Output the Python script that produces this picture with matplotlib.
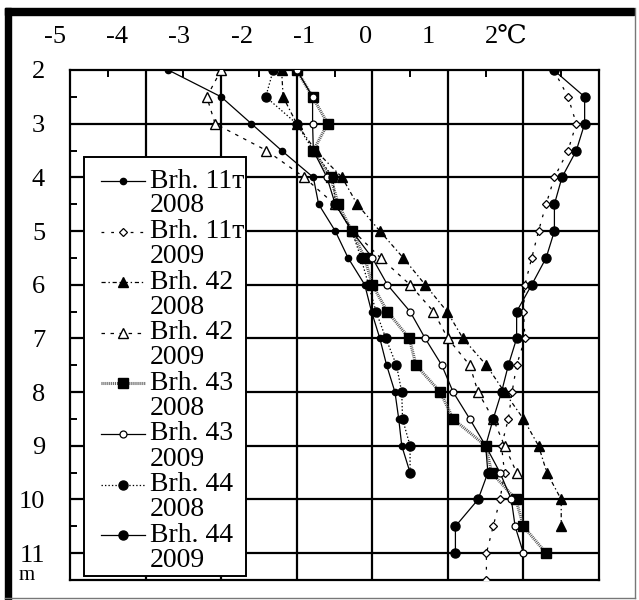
import matplotlib
matplotlib.use("Agg")
import matplotlib.pyplot as plt
from matplotlib.lines import Line2D
from matplotlib.patches import Rectangle
import numpy as np

plt.rcParams['font.family'] = ['Liberation Serif', 'DejaVu Serif', 'DejaVu Sans']
plt.rcParams['lines.scale_dashes'] = False

# ---- data: temperature (°C) by depth (m), 0.5 m step from 2 m ----
depths = [2.0, 2.5, 3.0, 3.5, 4.0, 4.5, 5.0, 5.5, 6.0, 6.5,
          7.0, 7.5, 8.0, 8.5, 9.0, 9.5, 10.0, 10.5, 11.0, 11.5]

brh11_2008 = [-3.70, -3.00, -2.60, -2.20, -1.78, -1.71, -1.49, -1.32, -1.10, -1.01,
              -0.90, -0.81, -0.70, -0.65, -0.61, -0.50]
brh11_2009 = [1.40, 1.59, 1.70, 1.59, 1.41, 1.30, 1.20, 1.11, 1.02, 1.00,
              1.02, 0.91, 0.85, 0.80, 0.71, 0.75, 0.69, 0.60, 0.51, 0.51]
brh42_2008 = [-2.20, -2.18, -2.00, -1.75, -1.40, -1.20, -0.90, -0.59, -0.30, -0.01,
              0.20, 0.51, 0.75, 1.00, 1.20, 1.31, 1.50, 1.50]
brh42_2009 = [-3.00, -3.19, -3.08, -2.40, -1.90, -1.50, -1.25, -0.89, -0.50, -0.19,
              0.00, 0.29, 0.40, 0.60, 0.75, 0.91]
brh43_2008 = [-2.00, -1.79, -1.59, -1.78, -1.55, -1.45, -1.27, -1.10, -1.00, -0.80,
              -0.51, -0.42, -0.10, 0.07, 0.50, 0.58, 0.90, 1.00, 1.30]
brh43_2009 = [-2.00, -1.79, -1.79, -1.78, -1.60, -1.49, -1.27, -1.00, -0.80, -0.50,
              -0.30, -0.08, 0.07, 0.29, 0.50, 0.69, 0.84, 0.89, 1.00]
brh44_2008 = [-2.31, -2.41, -2.00, -1.78, -1.52, -1.49, -1.27, -1.15, -1.05, -0.95,
              -0.82, -0.68, -0.61, -0.60, -0.50, -0.50]
brh44_2009 = [1.40, 1.81, 1.81, 1.70, 1.51, 1.41, 1.41, 1.30, 1.11, 0.91,
              0.91, 0.80, 0.71, 0.60, 0.50, 0.53, 0.40, 0.10, 0.10]

series_names = ["Brh. 11т", "Brh. 11т", "Brh. 42", "Brh. 42",
                "Brh. 43", "Brh. 43", "Brh. 44", "Brh. 44"]
series_years = ["2008", "2009", "2008", "2009", "2008", "2009", "2008", "2009"]
series_values = [brh11_2008, brh11_2009, brh42_2008, brh42_2009,
                 brh43_2008, brh43_2009, brh44_2008, brh44_2009]

x_tick_values = [-5, -4, -3, -2, -1, 0, 1, 2]
x_tick_labels = ["-5", "-4", "-3", "-2", "-1", "0", "1", "2\u2103"]
y_tick_values = [2, 3, 4, 5, 6, 7, 8, 9, 10, 11]
y_tick_labels = ["2", "3", "4", "5", "6", "7", "8", "9", "10", "11"]
depth_unit = "m"

# ---- line / marker styles for each borehole-year ----
styles = [
    dict(ls='-', lw=0.9, marker='o', ms=4.5, mfc='black', mec='black'),
    dict(ls=(0, (2.0, 5.0)), lw=0.9, marker='D', ms=4.5, mfc='white', mec='black', mew=0.9),
    dict(ls=(0, (3.0, 2.0, 1.0, 2.0)), lw=0.9, marker='^', ms=6.5, mfc='black', mec='black'),
    dict(ls=(0, (2.5, 4.0)), lw=0.9, marker='^', ms=6.5, mfc='white', mec='black', mew=1.0),
    dict(ls=(0, (0.7, 0.7)), lw=2.2, color='#555555', marker='s', ms=6.5, mfc='black', mec='black'),
    dict(ls='-', lw=0.9, marker='o', ms=5, mfc='white', mec='black', mew=0.9),
    dict(ls=(0, (1.0, 1.5)), lw=0.9, marker='o', ms=6.5, mfc='black', mec='black'),
    dict(ls='-', lw=0.9, marker='o', ms=6.5, mfc='black', mec='black'),
]

W, H = 639, 600
fig = plt.figure(figsize=(W / 100, H / 100), dpi=100)


def fx(px):
    return px / W


def fy(py):
    return 1 - py / H


# outer frame of the picture
fig.patches.append(Rectangle((fx(5), fy(15)), fx(634) - fx(5), fy(8) - fy(15),
                             transform=fig.transFigure, color='black', zorder=0))
fig.patches.append(Rectangle((fx(5), fy(600)), fx(11) - fx(5), fy(8) - fy(600),
                             transform=fig.transFigure, color='black', zorder=0))
fig.lines.append(Line2D([fx(635), fx(635)], [fy(8), fy(598)], transform=fig.transFigure,
                        color='#777777', lw=1.0))
fig.lines.append(Line2D([fx(5), fx(635)], [fy(598), fy(598)], transform=fig.transFigure,
                        color='#777777', lw=1.0))

left, right, top, bottom = 70, 599, 70, 580
ax = fig.add_axes([fx(left), fy(bottom), fx(right) - fx(left), fy(top) - fy(bottom)])
ax.set_xlim(-5, 2)
ax.set_ylim(11.5, 2)

for xv in range(-4, 2):
    ax.axvline(xv, color='black', lw=1.6, zorder=1)
for yv in range(3, 12):
    ax.axhline(yv, color='black', lw=1.6, zorder=1)
for s in ax.spines.values():
    s.set_linewidth(1.6)

for name, vals, st in zip(series_names, series_values, styles):
    st = dict(st)
    color = st.pop('color', 'black')
    ax.plot(vals, depths[:len(vals)], color=color, zorder=3, **st)

# ticks: minor half-step marks inside on top and left edges
ax.set_xticks(x_tick_values)
ax.set_xticklabels([])
ax.set_xticks(np.arange(-4.5, 2, 1.0), minor=True)
ax.set_yticks(y_tick_values)
ax.set_yticklabels(y_tick_labels, fontsize=19)
ax.set_yticks(np.arange(2.5, 11.6, 1.0), minor=True)
ax.tick_params(axis='x', which='major', length=0, labelbottom=False, labeltop=False)
ax.tick_params(axis='x', which='minor', direction='in', length=5, width=1.4,
               top=True, bottom=False, labelbottom=False, labeltop=False)
ax.tick_params(axis='y', which='major', length=0, pad=18)
ax.tick_params(axis='y', which='minor', direction='in', length=5, width=1.4, left=True)

# temperature scale printed along the top, on its own (narrower) spacing
p0, step = 55.0, 62.2
for v, lab in zip(x_tick_values, x_tick_labels):
    px = p0 + (v - x_tick_values[0]) * step
    if lab.endswith("\u2103"):
        fig.text(fx(px - 6), fy(37), lab, fontsize=19, ha='left', va='center')
    else:
        fig.text(fx(px), fy(37), lab, fontsize=19, ha='center', va='center')

fig.text(fx(27), fy(576), depth_unit, fontsize=15, ha='center', va='center')

# legend
lx0, ly0, lx1, ly1 = 84, 157, 246, 576
fig.patches.append(Rectangle((fx(lx0), fy(ly1)), fx(lx1) - fx(lx0), fy(ly0) - fy(ly1),
                             transform=fig.transFigure, facecolor='white',
                             edgecolor='black', lw=1.4, zorder=5))
first_line = 181.0
entry_gap = 50.6
for i, (name, year, st) in enumerate(zip(series_names, series_years, styles)):
    st = dict(st)
    color = st.pop('color', 'black')
    yc = first_line + i * entry_gap
    ln = Line2D([fx(101), fx(123), fx(145)], [fy(yc)] * 3, transform=fig.transFigure,
                color=color, markevery=[1], zorder=6, **st)
    fig.lines.append(ln)
    fig.text(fx(150), fy(yc), name, fontsize=20, ha='left', va='center', zorder=7)
    fig.text(fx(150), fy(yc + 25), year, fontsize=20, ha='left', va='center', zorder=7)

fig.savefig("out.png", dpi=100, facecolor='white')
